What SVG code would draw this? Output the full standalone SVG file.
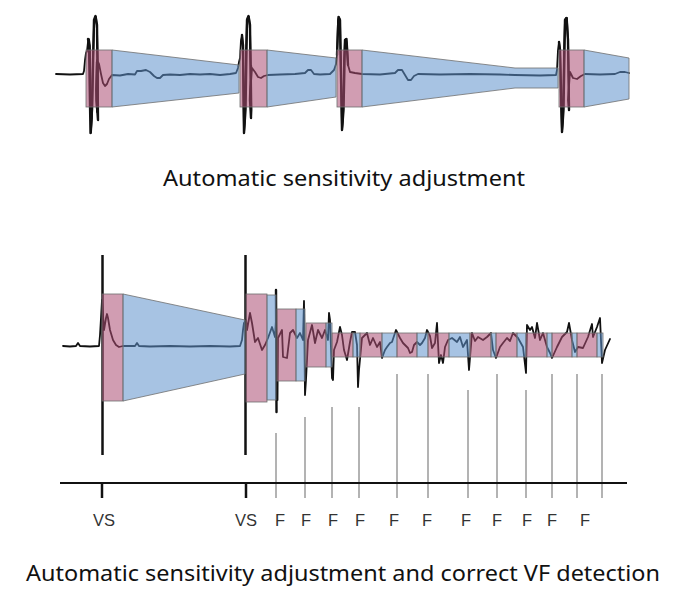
<svg xmlns="http://www.w3.org/2000/svg" width="686" height="605" viewBox="0 0 686 605">
<style>
.trace{fill:none;stroke:#111;stroke-width:1.8;stroke-linejoin:round;stroke-linecap:round}
.spk{fill:none;stroke:#111;stroke-width:2.4;stroke-linejoin:round;stroke-linecap:round}
.pk{fill:#ab4d73;fill-opacity:0.55;stroke:#6e6e6e;stroke-width:0.8}
.bl{fill:#5f92cc;fill-opacity:0.55;stroke:#6e6e6e;stroke-width:0.8}
.fl{stroke:#9a9a9a;stroke-width:1.5}
.vs{stroke:#111;stroke-width:2.5}
.lbl{font-family:"Liberation Sans",Arial,sans-serif;font-size:16.5px;fill:#333;text-anchor:middle}
.cap{font-family:"Noto Sans","Open Sans",sans-serif;font-size:21px;fill:#111}
</style>
<rect width="686" height="605" fill="#fff"/>

<g id="top-strip">
<path class="trace" d="M56,74 L70,74.5 L83,74 L84,71 L85,60 L86,53 L87,51 L88,42 L89,39 L90,46 L90.5,90 L91,133 L92,118 L93,60 L94,25 L95,17 L96,17 L97,30 L98,70 L98,105 L97,112 L96,90 L97,60 L99,64 L101,74 L103,83 L105,86 L107,84 L109,79 L112,75 L120,75.5 L128,74 L135,74.5 L137,71 L141,71 L146,70 L150,72 L154,76 L157,78 L160,78 L163,75 L170,74.5 L180,75 L190,74 L200,74.5 L210,74 L220,75 L230,74 L236,73 L238,68 L239,62 L240,58 L241,40 L242,35 L243,50 L243.5,100 L244,133 L245,120 L246,50 L247,20 L248,17 L249,17 L250,30 L251,70 L251.5,110 L251,118 L250.5,90 L252,68 L255,72 L258,77 L261,78 L264,76 L268,75 L280,74.5 L295,74 L305,73 L308,70 L311,70 L314,74 L320,74.5 L330,74 L334,70 L336,64 L337,55 L338,20 L339,17 L340,20 L341,80 L342,130 L343,120 L344,60 L345,40 L346,39 L347,45 L348,65 L350,72 L355,73 L362,74 L380,74.5 L395,73 L398,70 L402,70 L405,75 L408,80 L411,80 L414,76 L418,74 L440,74.5 L470,74 L500,74.5 L515,75 L540,75.5 L556,75 L557,70 L558,50 L559,42 L560,50 L561,100 L562,132 L563,120 L564,50 L565,20 L566,18 L567,18 L568,40 L569,90 L569,110 L568,100 L570,72 L573,78 L577,79 L581,76 L585,74 L600,74.5 L615,74 L620,72 L625,72 L629,73"/>
<path class="spk" d="M88,39 L89,45 L90.5,133 L92,110 L94,20 L95.5,16 L97,25 L98,120 L96.5,100 L97,62"/>
<path class="spk" d="M242,35 L243,45 L244,133 L245.5,110 L247,20 L248.5,16 L250,25 L251,118 L250,100 L251,66"/>
<path class="spk" d="M337,55 L338.5,17 L340,20 L342,130 L343.5,110 L345,40 L346.5,39 L348,65"/>
<path class="spk" d="M559,42 L560,50 L562,132 L563.5,110 L565,20 L566.5,18 L568,40 L569,110"/>
<rect class="pk" x="86" y="50" width="26" height="57"/>
<polygon class="bl" points="112,50 239,65 239,93 112,107"/>
<rect class="pk" x="240" y="50" width="27" height="57"/>
<polygon class="bl" points="267,50 336,58 336,97 267,107"/>
<rect class="pk" x="337" y="50" width="25" height="57"/>
<polygon class="bl" points="362,50 515,68 558,68 558,88 515,88 362,107"/>
<rect class="pk" x="559" y="50" width="25" height="57"/>
<polygon class="bl" points="584,50 629,58 629,99 584,107"/>
</g>

<g id="caption-top">
<text class="cap" x="163" y="186" textLength="362" lengthAdjust="spacingAndGlyphs">Automatic sensitivity adjustment</text>
</g>

<g id="bottom-strip">
<path class="trace" d="M63,346 L70,346.5 L76,346 L78,343 L80,346 L90,346.5 L99,346 L100,335 L101,318 L102,300 L104,330 L106,318 L107,314 L108,318 L110,330 L113,340 L116,345 L119,347 L123,346 L130,346 L135,346 L137,343 L139,346 L150,346.5 L170,346 L190,346.5 L210,346 L230,346.5 L240,346 L242,340 L243,330 L244,323 L246,320 L247,330 L250,313 L252,323 L255,342 L258,338 L262,350 L265,345 L268,338 L272,327 L275,337 L276,320 L277.5,400 L278,338 L282,330 L283,357 L287,358 L290,333 L293,330 L297,338 L300,333 L303,340 L304,301 L305,395 L306,380 L308,340 L312,325 L315,343 L318,330 L322,338 L325,330 L328,340 L329,313 L330,320 L332,378 L333,380 L334,350 L337,342 L340,327 L342,335 L344,350 L347,360 L350,342 L352,332 L355,332 L357,345 L358,387 L359,370 L362,338 L365,335 L367,333 L370,345 L373,338 L377,347 L380,342 L382,358 L385,350 L387,347 L390,343 L392,342 L396,330 L400,338 L403,343 L405,345 L408,348 L410,353 L412,352 L414,345 L417,342 L420,345 L422,343 L425,338 L427,330 L430,336 L432,348 L435,343 L437,323 L439,363 L441,355 L443,363 L445,347 L448,340 L452,338 L457,342 L460,337 L463,347 L467,340 L469,370 L472,333 L475,341 L478,337 L483,340 L487,337 L491,333 L493,350 L496,358 L500,347 L503,343 L507,338 L510,341 L513,333 L518,338 L523,347 L526,373 L527,325 L530,330 L532,327 L535,338 L537,323 L540,340 L543,333 L547,347 L550,353 L552,358 L557,347 L562,337 L567,332 L569,323 L572,340 L575,352 L578,347 L583,348 L588,337 L592,324 L593,337 L597,327 L600,318 L602,363 L605,350 L610,339"/>
<line class="vs" x1="102.5" y1="255" x2="102.5" y2="455"/>
<line class="vs" x1="245.5" y1="255" x2="245.5" y2="455"/>
<path class="spk" d="M276,290 L276.5,412"/>
<rect class="pk" x="102" y="294" width="21" height="107"/>
<polygon class="bl" points="123,294 245,320 245,374 123,401"/>
<rect class="pk" x="246" y="294" width="21" height="108"/>
<rect class="bl" x="267" y="295" width="9" height="105"/>
<rect class="pk" x="277" y="309" width="19" height="72"/>
<rect class="bl" x="296" y="309" width="9" height="72"/>
<rect class="pk" x="306" y="323" width="20" height="44"/>
<rect class="bl" x="326" y="323" width="6" height="44"/>
<rect class="pk" x="332" y="333" width="21" height="24"/>
<rect class="bl" x="353" y="333" width="7" height="24"/>
<rect class="pk" x="360" y="333" width="22" height="24"/>
<rect class="bl" x="382" y="333" width="15" height="24"/>
<rect class="pk" x="397" y="333" width="20" height="24"/>
<rect class="bl" x="417" y="333" width="11" height="24"/>
<rect class="pk" x="428" y="333" width="21" height="24"/>
<rect class="bl" x="449" y="333" width="21" height="24"/>
<rect class="pk" x="470" y="333" width="21" height="24"/>
<rect class="bl" x="491" y="333" width="5" height="24"/>
<rect class="pk" x="496" y="333" width="21" height="24"/>
<rect class="bl" x="517" y="333" width="9" height="24"/>
<rect class="pk" x="526" y="333" width="21" height="24"/>
<rect class="bl" x="547" y="333" width="5" height="24"/>
<rect class="pk" x="552" y="333" width="20" height="24"/>
<rect class="bl" x="572" y="333" width="5" height="24"/>
<rect class="pk" x="577" y="333" width="20" height="24"/>
<rect class="bl" x="597" y="333" width="6" height="24"/>
</g>

<g id="markers">
<line class="fl" x1="276" y1="433" x2="276" y2="498"/>
<line class="fl" x1="305" y1="417" x2="305" y2="498"/>
<line class="fl" x1="332" y1="407" x2="332" y2="498"/>
<line class="fl" x1="359" y1="407" x2="359" y2="498"/>
<line class="fl" x1="397" y1="374" x2="397" y2="498"/>
<line class="fl" x1="428" y1="374" x2="428" y2="498"/>
<line class="fl" x1="468" y1="390" x2="468" y2="498"/>
<line class="fl" x1="497" y1="374" x2="497" y2="498"/>
<line class="fl" x1="526" y1="390" x2="526" y2="498"/>
<line class="fl" x1="552" y1="374" x2="552" y2="498"/>
<line class="fl" x1="577" y1="374" x2="577" y2="498"/>
<line class="fl" x1="602" y1="374" x2="602" y2="498"/>
<line x1="60" y1="483" x2="627" y2="483" stroke="#111" stroke-width="2"/>
<line class="vs" x1="102" y1="483" x2="102" y2="498"/>
<line class="vs" x1="246" y1="483" x2="246" y2="498"/>
</g>

<g id="labels">
<text class="lbl" x="104" y="526">VS</text>
<text class="lbl" x="246" y="526">VS</text>
<text class="lbl" x="280" y="526">F</text>
<text class="lbl" x="306" y="526">F</text>
<text class="lbl" x="333" y="526">F</text>
<text class="lbl" x="360" y="526">F</text>
<text class="lbl" x="394" y="526">F</text>
<text class="lbl" x="427" y="526">F</text>
<text class="lbl" x="466" y="526">F</text>
<text class="lbl" x="497" y="526">F</text>
<text class="lbl" x="527" y="526">F</text>
<text class="lbl" x="552" y="526">F</text>
<text class="lbl" x="585" y="526">F</text>
</g>

<g id="caption-bottom">
<text class="cap" x="26" y="581" textLength="634" lengthAdjust="spacingAndGlyphs">Automatic sensitivity adjustment and correct VF detection</text>
</g>
</svg>
